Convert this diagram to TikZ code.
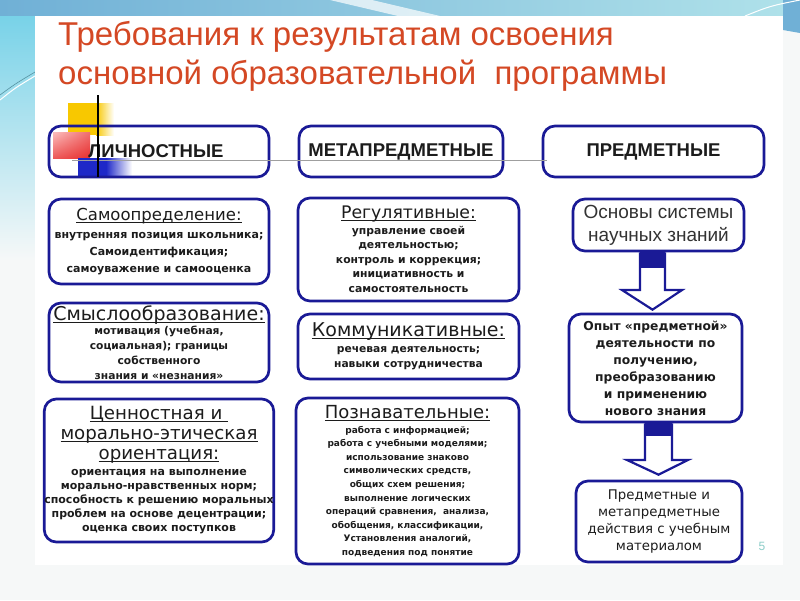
\documentclass[tikz,border=0pt]{standalone}
\usepackage{fontspec}
\setmainfont{DejaVu Sans}
\newfontfamily\arialf{Liberation Sans}
\usetikzlibrary{calc,shadings}
\definecolor{navy}{RGB}{26,26,150}
\definecolor{titlec}{RGB}{212,72,36}
\definecolor{txt}{RGB}{28,28,28}
\definecolor{topblue}{RGB}{112,176,214}
\definecolor{topcyan}{RGB}{176,226,234}
\definecolor{leftcyan}{RGB}{120,210,232}
\definecolor{pagebg}{RGB}{246,248,248}
\definecolor{decoyellow}{RGB}{248,200,0}
\definecolor{decored}{RGB}{232,48,48}
\definecolor{decopink}{RGB}{252,190,190}
\definecolor{decoblue}{RGB}{30,40,200}
\definecolor{numc}{RGB}{140,205,200}
\newcommand\hul[1]{\setbox0\hbox{#1}\rlap{\rule[-2.4pt]{\wd0}{1.2pt}}\box0}
\newcommand\fs[2]{\fontsize{#1}{#2}\selectfont}
\tikzset{
 box/.style={draw=navy, line width=2.7pt, rounded corners=12pt, fill=white, inner sep=0pt, align=center, text=txt},
 capbox/.style={box, font=\arialf\bfseries\fs{18.5}{21}},
 barrow/.style={draw=navy, fill=white, line width=2.2pt, line join=miter},
 titletext/.style={text=titlec, font=\arialf\fs{33}{38}, inner sep=0pt, anchor=base west},
}
\begin{document}
\begin{tikzpicture}[x=1pt,y=-1pt]
\useasboundingbox (0,0) rectangle (800,600);
% background of the slide
\fill[pagebg] (0,0) rectangle (800,600);
\shade[left color=topblue, right color=topcyan] (0,0) rectangle (800,16);
\shade[top color=leftcyan, bottom color=pagebg] (0,16) rectangle (35,260);
\fill[white, opacity=0.7] (330,0) -- (372,0) -- (440,16) -- (398,16) -- cycle;
\draw[white, line width=1pt] (0,100) .. controls (15,88) .. (35,76);
\draw[leftcyan!70!black, line width=0.6pt] (0,95) .. controls (15,84) .. (35,72);
\fill[topblue] (783,0) -- (800,0) -- (800,33) -- (783,30) -- cycle;
\draw[white, line width=1pt] (745,16) .. controls (770,6) .. (800,0);
\fill[white] (35,16) rectangle (783,565);

% title
\node[titletext] (t1) at (58,45) {Требования к результатам освоения};
\node[titletext] (t2) at (58,84) {основной образовательной\ \ программы};

% decoration squares
\fill[decoyellow] (68,103) rectangle (96,135);
\shade[left color=decoyellow, right color=white] (96,103) rectangle (114,135);
\shade[upper left=decopink, upper right=decored!70!white, lower left=decored!80!white, lower right=decored] (53,132) rectangle (90,158);
\fill[decoblue] (78,158) rectangle (106,176);
\shade[left color=decoblue, right color=white] (106,158) rectangle (132,176);

% header boxes
\node[capbox, fill=none, minimum width=220, minimum height=51] (lich) at (159,151.5) {\hspace*{-6pt}ЛИЧНОСТНЫЕ};
\node[capbox, minimum width=204, minimum height=51] (meta) at (401,151.5) {МЕТАПРЕДМЕТНЫЕ};
\node[capbox, minimum width=221, minimum height=51] (pred) at (653.5,151.5) {ПРЕДМЕТНЫЕ};
\draw[gray!75, line width=1pt] (72,160) -- (547,160);
\draw[black, line width=1.2pt] (98,95) -- (98,177);

% left column
\node[box, minimum width=220, minimum height=85, font=\bfseries\fs{11}{17}] (samo) at (159,241.5)
 {{\mdseries\fs{16.5}{20}\hul{Самоопределение:}}\\[1pt]
  внутренняя позиция школьника;\\ Самоидентификация;\\ самоуважение и самооценка};
\node[box, minimum width=220, minimum height=79, font=\bfseries\fs{10.7}{15}] (smysl) at (159,342.5)
 {{\mdseries\fs{19}{21}\hul{Смыслообразование:}}\\[-1pt]
  мотивация (учебная,\\ социальная); границы\\ собственного\\ знания и «незнания»};
\node[box, minimum width=220, minimum height=143, font=\bfseries\fs{11}{14}] (cenn) at (159,470.5)
 {{\mdseries\fs{18.2}{20}\hul{Ценностная и\ }}\\[6pt]
  {\mdseries\fs{18.2}{20}\hul{морально-этическая}}\\[6pt]
  {\mdseries\fs{18.2}{20}\hul{ориентация:}}\\[2pt]
  ориентация на выполнение\\ морально-нравственных норм;\\ способность к решению моральных\\ проблем на основе децентрации;\\ оценка своих поступков};

% middle column
\node[box, minimum width=221, minimum height=103, font=\bfseries\fs{10.8}{14.5}] (reg) at (408.5,249.5)
 {{\mdseries\fs{17.3}{20}\hul{Регулятивные:}}\\[1pt]
  управление своей\\ деятельностью;\\ контроль и коррекция;\\ инициативность и\\ самостоятельность};
\node[box, minimum width=221, minimum height=65, font=\bfseries\fs{10.7}{15}] (komm) at (408.5,346.5)
 {{\mdseries\fs{19}{21}\hul{Коммуникативные:}}\\[1pt]
  речевая деятельность;\\ навыки сотрудничества};
\node[box, minimum width=223, minimum height=166, font=\bfseries\fs{9.0}{13.6}] (pozn) at (407.5,481)
 {{\mdseries\fs{18}{20}\hul{Познавательные:}}\\[1pt]
  работа с информацией;\\ работа с учебными моделями;\\ использование знаково\\ символических средств,\\ общих схем решения;\\ выполнение логических\\ операций сравнения,\ \ анализа,\\ обобщения, классификации,\\ Установления аналогий,\\ подведения под понятие};

% right column
\node[box, minimum width=171, minimum height=52, text=black!80, font=\arialf\fs{19}{23}] (osn) at (658.5,225)
 {Основы системы\\ научных знаний};
\node[box, minimum width=173, minimum height=108, font=\bfseries\fs{12.3}{17}] (opyt) at (655.5,368)
 {Опыт «предметной»\\ деятельности по\\ получению,\\ преобразованию\\ и применению\\ нового знания};
\node[box, minimum width=166, minimum height=81, font=\fs{13.3}{17}] (predm) at (659,521.5)
 {Предметные и\\ метапредметные\\ действия с учебным\\ материалом};

% block arrows
\coordinate (a1l) at (640,0); \coordinate (a1r) at (665,0); \coordinate (a1m) at (652.5,0);
\draw[barrow] (osn.south -| a1l) -- (640,290) -- (622,290) -- ($(opyt.north -| a1m)+(0,-3)$) -- (682,290) -- (665,290) -- (osn.south -| a1r);
\fill[navy] (osn.south -| a1l) rectangle (665,268);
\coordinate (a2l) at (645,0); \coordinate (a2r) at (672,0); \coordinate (a2m) at (658.5,0);
\draw[barrow] (opyt.south -| a2l) -- (645,460) -- (627,460) -- ($(predm.north -| a2m)+(0,-5)$) -- (688,460) -- (672,460) -- (opyt.south -| a2r);
\fill[navy] (opyt.south -| a2l) rectangle (672,436);

\node[text=numc, font=\arialf\fs{12}{14}] (pnum) at (762,546) {5};
\end{tikzpicture}
\end{document}
